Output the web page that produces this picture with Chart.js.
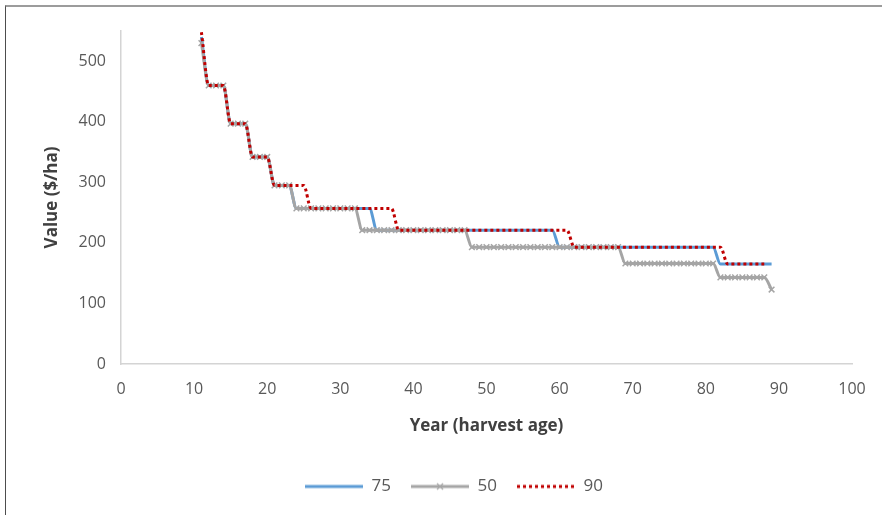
<!DOCTYPE html>
<html>
<head>
<meta charset="utf-8">
<script src="https://cdn.jsdelivr.net/npm/chart.js@4.4.1/dist/chart.umd.min.js"></script>
<style>
html, body { margin: 0; padding: 0; background: #fff; }
#wrap { position: relative; width: 882px; height: 515px; overflow: hidden; }
#frame { position: absolute; left: 5px; top: 5px; width: 900px; height: 600px;
         border-top: 2px solid #9c9c9c; border-left: 1px solid #4d4d4d; }
#myChart { position: absolute; left: 0; top: 0; }
</style>
</head>
<body>
<div id="wrap">
  <div id="frame"></div>
  <canvas id="myChart" width="882" height="515"></canvas>
</div>
<script>
// harvest age (years)
var years = [11,12,13,14,15,16,17,18,19,20,
             21,22,23,24,25,26,27,28,29,30,
             31,32,33,34,35,36,37,38,39,40,
             41,42,43,44,45,46,47,48,49,50,
             51,52,53,54,55,56,57,58,59,60,
             61,62,63,64,65,66,67,68,69,70,
             71,72,73,74,75,76,77,78,79,80,
             81,82,83,84,85,86,87,88,89];

// value ($/ha), one row per decade
var value75 = [540,460,460,460,397,397,397,342,342,342,
               295,295,295,257,257,257,257,257,257,257,
               257,257,257,257,221,221,221,221,221,221,
               221,221,221,221,221,221,221,221,221,221,
               221,221,221,221,221,221,221,221,221,193,
               193,193,193,193,193,193,193,193,193,193,
               193,193,193,193,193,193,193,193,193,193,
               193,165,165,165,165,165,165,165,165];

var value50 = [530,460,460,460,397,397,397,342,342,342,
               295,295,295,257,257,257,257,257,257,257,
               257,257,221,221,221,221,221,221,221,221,
               221,221,221,221,221,221,221,193,193,193,
               193,193,193,193,193,193,193,193,193,193,
               193,193,193,193,193,193,193,193,166,166,
               166,166,166,166,166,166,166,166,166,166,
               166,143,143,143,143,143,143,143,123];

var value90 = [548,460,460,460,397,397,397,342,342,342,
               295,295,295,295,295,257,257,257,257,257,
               257,257,257,257,257,257,257,221,221,221,
               221,221,221,221,221,221,221,221,221,221,
               221,221,221,221,221,221,221,221,221,221,
               221,193,193,193,193,193,193,193,193,193,
               193,193,193,193,193,193,193,193,193,193,
               193,193,165,165,165,165,165,165,null];

var xTicks = [0,10,20,30,40,50,60,70,80,90,100];
var yTicks = [0,100,200,300,400,500];

var BLUE = '#5b9bd5', GREY = '#a5a5a5', RED = '#c00000';

// little line samples for the legend
function legendIcon(kind) {
    var c = document.createElement('canvas');
    c.width = 58; c.height = 12;
    var g = c.getContext('2d');
    g.lineWidth = 3;
    g.beginPath();
    g.moveTo(0, 6); g.lineTo(58, 6);
    if (kind == 'blue') {
        g.strokeStyle = BLUE;
        g.stroke();
    } else if (kind == 'grey') {
        g.strokeStyle = GREY;
        g.stroke();
        g.lineWidth = 1.2;
        g.beginPath();
        g.moveTo(26, 3); g.lineTo(32, 9);
        g.moveTo(32, 3); g.lineTo(26, 9);
        g.stroke();
    } else {
        g.strokeStyle = RED;
        g.setLineDash([3, 3]);
        g.stroke();
    }
    return c;
}
var legendIcons = [legendIcon('blue'), legendIcon('grey'), legendIcon('red')];

var font = "'Open Sans', sans-serif";
var ctx = document.getElementById('myChart').getContext('2d');
var chart = new Chart(ctx, {
    type: 'line',
    data: {
        labels: years,
        datasets: [{
            label: '75',
            data: value75,
            borderColor: BLUE,
            backgroundColor: BLUE,
            borderWidth: 3,
            pointRadius: 0,
            order: 3
        }, {
            label: '50',
            data: value50,
            borderColor: GREY,
            backgroundColor: GREY,
            borderWidth: 3,
            pointStyle: 'crossRot',
            pointRadius: 4,
            pointBorderWidth: 1.5,
            pointBorderColor: GREY,
            order: 2
        }, {
            label: '90',
            data: value90,
            borderColor: RED,
            backgroundColor: RED,
            borderWidth: 3,
            borderDash: [3, 3],
            borderCapStyle: 'butt',
            pointRadius: 0,
            order: 1
        }]
    },
    options: {
        responsive: false,
        devicePixelRatio: 1,
        animation: false,
        cubicInterpolationMode: 'monotone',
        layout: { padding: { left: 26, right: 0, top: 31, bottom: 10 } },
        scales: {
            x: {
                type: 'linear',
                min: 0,
                max: 100,
                afterBuildTicks: function(s) { s.ticks = xTicks.map(function(v) { return { value: v }; }); },
                afterFit: function(s) { s.height = 94; },
                grid: { display: false, drawTicks: false },
                border: { display: true, color: '#d4d4d4', width: 1.5 },
                ticks: { padding: 16, color: '#595959', font: { family: font, size: 16 } },
                title: {
                    display: true,
                    text: 'Year (harvest age)',
                    color: '#404040',
                    font: { family: font, size: 17, weight: 'bold' },
                    padding: { top: 0, bottom: 22 }
                }
            },
            y: {
                min: 0,
                max: 550,
                afterBuildTicks: function(s) { s.ticks = yTicks.map(function(v) { return { value: v }; }); },
                afterFit: function(s) { s.width = 95; },
                grid: { display: false, drawTicks: false },
                border: { display: true, color: '#d4d4d4', width: 1.5 },
                ticks: { padding: 15, color: '#595959', font: { family: font, size: 16 } },
                title: {
                    display: true,
                    text: 'Value ($/ha)',
                    color: '#404040',
                    font: { family: font, size: 17, weight: 'bold' },
                    padding: { top: 16, bottom: 0 }
                }
            },
            // empty right margin so the legend centres like the original
            yRight: {
                position: 'right',
                afterFit: function(s) { s.width = 30; },
                grid: { display: false, drawTicks: false },
                border: { display: false },
                ticks: { display: false }
            }
        },
        plugins: {
            tooltip: { enabled: false },
            legend: {
                position: 'bottom',
                labels: {
                    usePointStyle: true,
                    pointStyleWidth: 58,
                    padding: 20,
                    color: '#595959',
                    font: { family: font, size: 17 },
                    sort: function(a, b) { return a.datasetIndex - b.datasetIndex; },
                    generateLabels: function(chart) {
                        var items = Chart.defaults.plugins.legend.labels.generateLabels(chart);
                        items.forEach(function(it) { it.pointStyle = legendIcons[it.datasetIndex]; });
                        return items;
                    }
                }
            }
        }
    }
});
</script>
</body>
</html>
